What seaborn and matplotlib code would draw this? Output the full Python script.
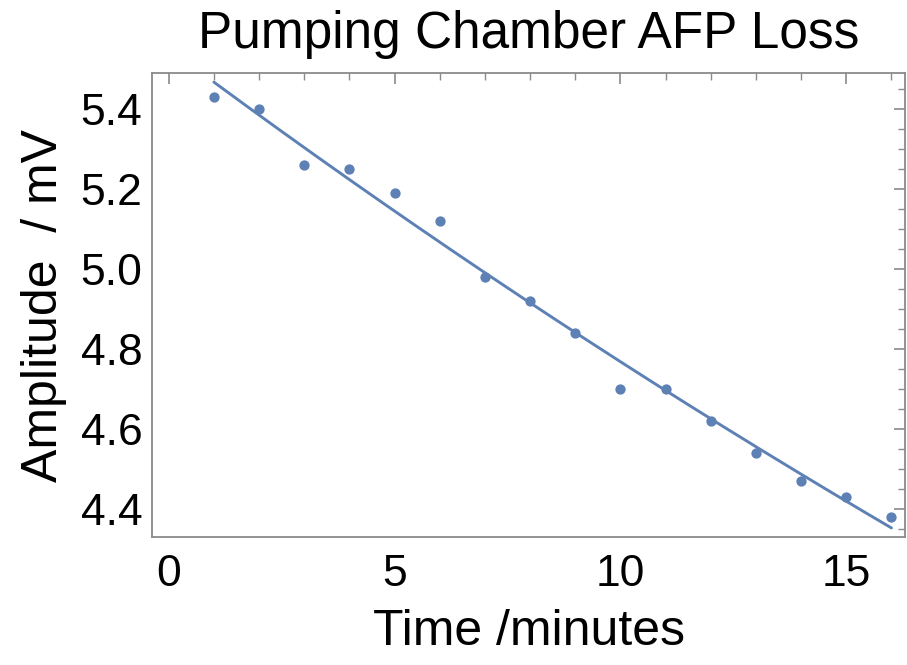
import numpy as np
import pandas as pd
import matplotlib
matplotlib.use("Agg")
import matplotlib.pyplot as plt
import seaborn as sns
from matplotlib.ticker import MultipleLocator, FormatStrFormatter

time_min = [1, 2, 3, 4, 5, 6, 7, 8, 9, 10, 11, 12, 13, 14, 15, 16]
amplitude_mv = [5.43, 5.40, 5.26, 5.25, 5.19, 5.12, 4.98, 4.92,
                4.84, 4.70, 4.70, 4.62, 4.54, 4.47, 4.43, 4.38]

# exponential decay fit: A0 * exp(-rate * t)
fit_A0 = 5.551
fit_rate = 0.0152

df = pd.DataFrame({'Time': time_min, 'Amplitude': amplitude_mv})
t = np.linspace(min(time_min), max(time_min), 200)
fit = pd.DataFrame({'Time': t, 'Amplitude': fit_A0 * np.exp(-fit_rate * t)})

sns.set_style('white')
plt.rcParams['font.family'] = ['Liberation Sans', 'DejaVu Sans']
plt.rcParams['text.color'] = 'black'
plt.rcParams['axes.labelcolor'] = 'black'
plt.rcParams['xtick.color'] = 'black'
plt.rcParams['ytick.color'] = 'black'

blue = '#5E81B5'
frame = '#8a8a8a'

fig = plt.figure(figsize=(9.07, 6.65), dpi=100)
ax = fig.add_axes([0.1676, 0.1925, 0.8302, 0.6977])

sns.lineplot(data=fit, x='Time', y='Amplitude', ax=ax, color=blue, lw=2.1)
sns.scatterplot(data=df, x='Time', y='Amplitude', ax=ax, color=blue,
                s=55, linewidth=0)

ax.set_xlim(-0.37, 16.3)
ax.set_ylim(4.33, 5.49)
ax.xaxis.set_major_locator(MultipleLocator(5))
ax.xaxis.set_minor_locator(MultipleLocator(1))
ax.yaxis.set_major_locator(MultipleLocator(0.2))
ax.yaxis.set_minor_locator(MultipleLocator(0.05))
ax.yaxis.set_major_formatter(FormatStrFormatter('%.1f'))

ax.tick_params(which='both', direction='in', top=True, right=True,
               color=frame, labelsize=32)
ax.tick_params(axis='x', pad=12)
ax.tick_params(axis='y', pad=7)
ax.tick_params(which='major', length=8, width=1.2)
ax.tick_params(which='minor', length=5, width=1)
for s in ax.spines.values():
    s.set_color(frame)
    s.set_linewidth(1.3)

ax.set_title('Pumping Chamber AFP Loss', fontsize=37, pad=18)
ax.set_xlabel('Time /minutes', fontsize=36, labelpad=10)
ax.set_ylabel('Amplitude  / mV', fontsize=36, labelpad=10)

fig.savefig('out.png', dpi=100)
